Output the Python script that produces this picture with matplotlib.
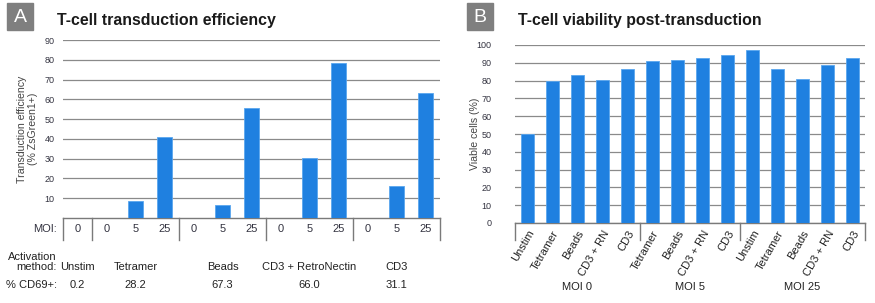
import matplotlib
matplotlib.use("Agg")
import matplotlib.pyplot as plt
import matplotlib.transforms as mtransforms
from matplotlib.patches import Rectangle

plt.rcParams["font.family"] = ["Liberation Sans", "DejaVu Sans"]

# ---- Panel A data ----
moi_a = ["0", "0", "5", "25", "0", "5", "25", "0", "5", "25", "0", "5", "25"]
efficiency = [0, 0, 8.5, 41, 0, 6.5, 55.5, 0, 30.5, 78.5, 0, 16, 63]
methods_a = ["Unstim", "Tetramer", "Beads", "CD3 + RetroNectin", "CD3"]
group_sizes_a = [1, 3, 3, 3, 3]
cd69 = ["0.2", "28.2", "67.3", "66.0", "31.1"]

# ---- Panel B data ----
labels_b = ["Unstim", "Tetramer", "Beads", "CD3 + RN", "CD3",
            "Tetramer", "Beads", "CD3 + RN", "CD3",
            "Unstim", "Tetramer", "Beads", "CD3 + RN", "CD3"]
viability = [50, 80, 83, 80.5, 86.5, 91, 91.5, 92.5, 94.5, 97, 86.5, 81, 89, 92.5]
moi_groups_b = ["MOI 0", "MOI 5", "MOI 25"]
group_sizes_b = [5, 4, 5]

BLUE = "#1F80E0"
GRID = "#8a8a8a"
LINE = "#7a7a7a"
TXT = "#333340"

W, H = 875, 303
fig = plt.figure(figsize=(W / 100, H / 100), dpi=100)


def px_axes(x0, y0, x1, y1):
    # pixel box (top-left origin) -> figure axes
    return fig.add_axes([x0 / W, 1 - y1 / H, (x1 - x0) / W, (y1 - y0) / H])


def panel_letter(x0, letter):
    fig.patches.append(Rectangle((x0 / W, 1 - 30 / H), 26 / W, 27 / H,
                                 transform=fig.transFigure, color="#7f7f7f"))
    fig.text((x0 + 13) / W, 1 - 17 / H, letter, color="white", fontsize=14,
             ha="center", va="center")


def group_bounds(sizes):
    edges = [-0.5]
    for s in sizes:
        edges.append(edges[-1] + s)
    centers = [(edges[i] + edges[i + 1]) / 2 for i in range(len(sizes))]
    return edges, centers


# ================= Panel A =================
panel_letter(7, "A")
fig.text(57 / W, 1 - 25 / H, "T-cell transduction efficiency", fontsize=11.4,
         fontweight="bold", ha="left", va="baseline", color="#1a1a1a")

axA = px_axes(63, 40, 440, 218)
xa = list(range(len(efficiency)))
axA.bar(xa, efficiency, width=0.55, color=BLUE, edgecolor="#5aa6ee", linewidth=0.6, zorder=3)
axA.set_xlim(-0.5, len(efficiency) - 0.5)
axA.set_ylim(0, 90)
axA.set_yticks(range(10, 91, 10))
axA.tick_params(axis="y", length=0, pad=6, labelsize=6.5, labelcolor=TXT)
axA.set_xticks([])
axA.yaxis.grid(True, color=GRID, linewidth=0.9, zorder=0)
for s in ["left", "right", "top"]:
    axA.spines[s].set_visible(False)
axA.spines["bottom"].set_color(LINE)
axA.spines["bottom"].set_linewidth(1.0)
axA.set_ylabel("Transduction efficiency\n(% ZsGreen1+)", fontsize=7.6, color="#444444",
               linespacing=1.15)
axA.yaxis.set_label_coords(-0.066, 0.5)

tA = mtransforms.blended_transform_factory(axA.transData, axA.transAxes)
hA = 178.0
edges_a, centers_a = group_bounds(group_sizes_a)
for e in edges_a:
    axA.plot([e, e], [0, -22 / hA], transform=tA, color=LINE, linewidth=1.0, clip_on=False)
for x, lab in zip(xa, moi_a):
    axA.text(x, -11 / hA, lab, transform=tA, ha="center", va="center", fontsize=8, color=TXT)
axA.text(-6 / 377, -11 / hA, "MOI:", transform=axA.transAxes, ha="right", va="center",
         fontsize=8, color=TXT)
axA.text(-6 / 377, -44 / hA, "Activation\nmethod:", transform=axA.transAxes, ha="right",
         va="center", fontsize=8, color="#222222", linespacing=0.95, multialignment="right")
for c, m in zip(centers_a, methods_a):
    axA.text(c, -49 / hA, m, transform=tA, ha="center", va="center", fontsize=8, color="#222222")
axA.text(-6 / 377, -67 / hA, "% CD69+:", transform=axA.transAxes, ha="right", va="center",
         fontsize=8, color="#222222")
for c, v in zip(centers_a, cd69):
    axA.text(c, -67 / hA, v, transform=tA, ha="center", va="center", fontsize=8, color="#222222")

# ================= Panel B =================
panel_letter(467, "B")
fig.text(518 / W, 1 - 25 / H, "T-cell viability post-transduction", fontsize=11.4,
         fontweight="bold", ha="left", va="baseline", color="#1a1a1a")

axB = px_axes(515, 45, 865, 223)
xb = list(range(len(viability)))
axB.bar(xb, viability, width=0.53, color=BLUE, edgecolor="#5aa6ee", linewidth=0.6, zorder=3)
axB.set_xlim(-0.5, len(viability) - 0.5)
axB.set_ylim(0, 100)
axB.set_yticks(range(0, 101, 10))
axB.tick_params(axis="y", length=0, pad=17, labelsize=6.5, labelcolor=TXT)
axB.set_xticks([])
axB.yaxis.grid(True, color=GRID, linewidth=0.9, zorder=0)
for s in ["left", "right", "top"]:
    axB.spines[s].set_visible(False)
axB.spines["bottom"].set_color(LINE)
axB.spines["bottom"].set_linewidth(1.0)
axB.set_ylabel("Viable cells (%)", fontsize=7.6, color="#444444")
axB.yaxis.set_label_coords(-0.1, 0.5)

tB = mtransforms.blended_transform_factory(axB.transData, axB.transAxes)
hB = 178.0
edges_b, centers_b = group_bounds(group_sizes_b)
for e in edges_b:
    axB.plot([e, e], [0, -17 / hB], transform=tB, color=LINE, linewidth=1.0, clip_on=False)
shift = mtransforms.ScaledTranslation(4 / 100, 0, fig.dpi_scale_trans)
for x, lab in zip(xb, labels_b):
    axB.text(x, -8 / hB, lab, transform=tB + shift, ha="right", va="center", rotation=60,
             rotation_mode="anchor", fontsize=8, color="#222222")
for c, g in zip(centers_b, moi_groups_b):
    axB.text(c, -64 / hB, g, transform=tB, ha="center", va="center", fontsize=8, color="#222222")

fig.savefig("out.png", dpi=100)
